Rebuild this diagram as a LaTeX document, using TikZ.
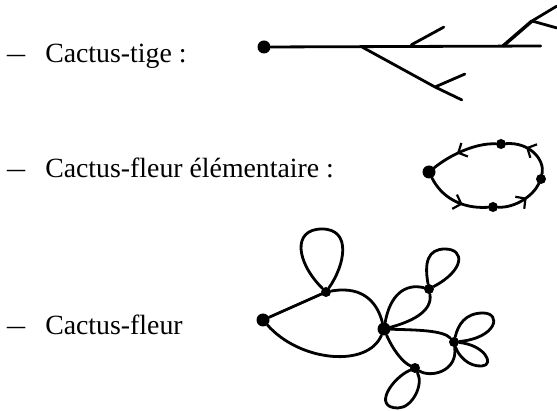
\documentclass[tikz,border=0pt]{standalone}
\usepackage{fontspec}
\setmainfont{Liberation Serif}
\usetikzlibrary{arrows.meta,decorations.markings}
\newcommand{\tiret}{\scalebox{1.3}[1]{--}}
\tikzset{
  vlabel/.style={anchor=base west,inner sep=0pt,font=\fontsize{27.8}{32}\selectfont},
  vroot/.style={circle,fill=black,inner sep=0pt,minimum size=13pt},
  vdot/.style={circle,fill=black,inner sep=0pt,minimum size=10pt},
  vtip/.style={inner sep=0pt,minimum size=0pt},
  vline/.style={line width=2.8pt,draw=black,line cap=round,line join=round},
  varr/.style={vline,postaction={decorate},decoration={markings,mark=at position #1 with {\arrow[line width=2.2pt]{Straight Barb[length=7pt,width=15pt]}}}}
}
\begin{document}
\begin{tikzpicture}[x=1pt,y=-1pt]
  \useasboundingbox (0,0) rectangle (557,411);
  % labels
  \node[vlabel] (t1) at (7,63) {\tiret\hspace{20pt}Cactus-tige :};
  \node[vlabel] (t2) at (7,178) {\tiret\hspace{20pt}Cactus-fleur élémentaire :};
  \node[vlabel] (t3) at (7,335) {\tiret\hspace{20pt}Cactus-fleur};
  % tige
  \node[vroot] (r1) at (264,47) {};
  \node[vtip] (e1) at (541,46) {};
  \node[vtip] (b1) at (411,45) {};
  \node[vtip] (b2) at (362,47) {};
  \node[vtip] (b3) at (503,46) {};
  \node[vtip] (a1) at (444,27) {};
  \node[vtip] (a2) at (435,87) {};
  \node[vtip] (a3) at (462,100) {};
  \node[vtip] (a4) at (465,74) {};
  \node[vtip] (a5) at (532,21) {};
  \node[vtip] (a6) at (557,6) {};
  \node[vtip] (a7) at (557,28) {};
  \draw[vline] (r1) -- (e1);
  \draw[vline] (b1) -- (a1);
  \draw[vline] (b2) -- (a2) -- (a3);
  \draw[vline] (a2) -- (a4);
  \draw[vline,line width=3.5pt] (b3) -- (a5);
  \draw[vline] (a5) -- (a6);
  \draw[vline] (a5) -- (a7);
  % fleur elementaire
  \node[vroot] (r2) at (429,172) {};
  \node[vdot] (f1) at (493,207) {};
  \node[vdot] (f2) at (541,179) {};
  \node[vdot] (f3) at (501,144) {};
  \draw[varr=0.62] (r2) .. controls (441,196) and (460,209) .. (f1);
  \draw[varr=0.62] (f1) .. controls (515,208) and (533,196) .. (f2);
  \draw[varr=0.62] (f2) .. controls (545,160) and (530,142) .. (f3);
  \draw[varr=0.6] (f3) .. controls (475,143) and (450,155) .. (r2);
  % cactus-fleur
  \node[vroot] (r3) at (263,320) {};
  \node[vdot] (n1) at (326,292) {};
  \node[vroot] (hub) at (384,329) {};
  \node[vdot] (n2) at (429,289) {};
  \node[vdot] (n3) at (454,342) {};
  \node[vdot] (n4) at (415,368) {};
  \draw[vline] (r3) -- (n1);
  \draw[vline] (n1) .. controls (365,285) and (378,305) .. (hub);
  \draw[vline] (hub) .. controls (368,368) and (300,362) .. (r3);
  \draw[vline] (n1) .. controls (296,262) and (292,229) .. (322,229) .. controls (352,229) and (345,265) .. (n1);
  \draw[vline] (hub) .. controls (390,295) and (405,283) .. (n2);
  \draw[vline] (hub) .. controls (410,322) and (433,312) .. (n2);
  \draw[vline] (n2) .. controls (424,262) and (428,249) .. (445,249) .. controls (465,249) and (465,270) .. (n2);
  \draw[vline] (hub) .. controls (415,330) and (443,330) .. (n3);
  \draw[vline] (n3) .. controls (458,372) and (430,378) .. (n4);
  \draw[vline] (hub) .. controls (392,348) and (402,362) .. (n4);
  \draw[vline] (n3) .. controls (458,325) and (465,313) .. (483,313) .. controls (502,313) and (497,338) .. (n3);
  \draw[vline] (n3) .. controls (458,355) and (468,367) .. (482,366) .. controls (495,365) and (485,345) .. (n3);
  \draw[vline] (n4) .. controls (392,378) and (372,408) .. (398,408) .. controls (412,408) and (424,385) .. (n4);
\end{tikzpicture}
\end{document}
